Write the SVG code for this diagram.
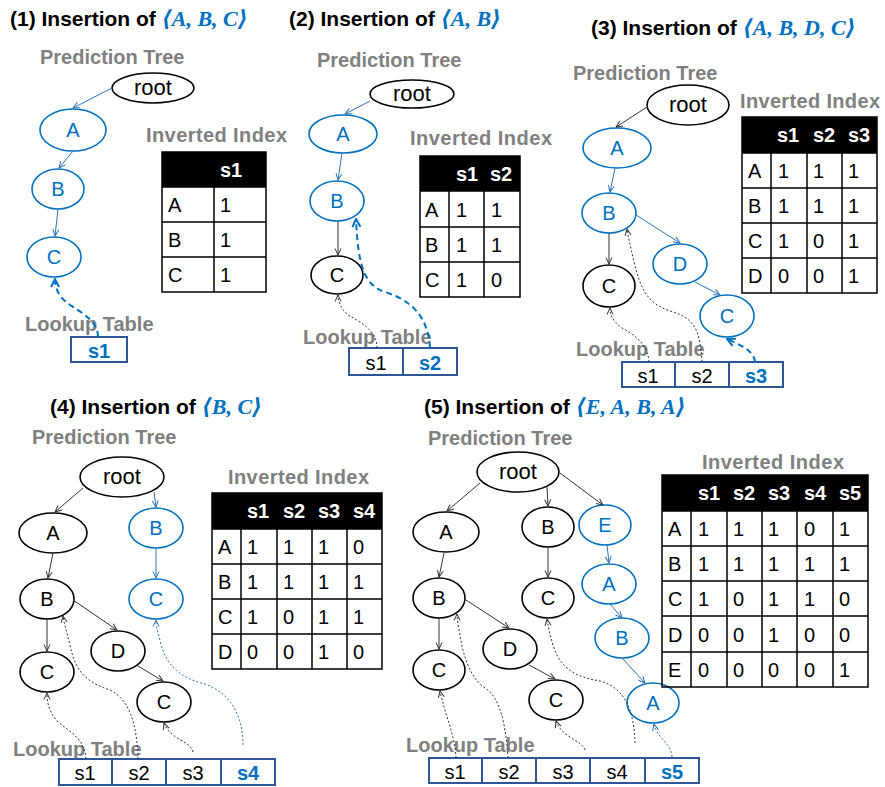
<svg xmlns="http://www.w3.org/2000/svg" width="885" height="787" viewBox="0 0 885 787">
<style>
.title{font-family:"Liberation Sans",Arial,sans-serif;font-size:21px;font-weight:bold;fill:#000}
.math{font-family:"Liberation Serif","DejaVu Serif",serif;font-style:italic;font-weight:bold;fill:#0070c0;font-size:22px}
.lab{font-family:"Liberation Sans",Arial,sans-serif;font-size:20px;font-weight:bold;fill:#808080}
.nk{fill:#fff;stroke:#000;stroke-width:1.6}
.nbl{fill:#fff;stroke:#0070c0;stroke-width:1.6}
.tx{font-family:"Liberation Sans",Arial,sans-serif;font-size:20px;text-anchor:middle;fill:#000}
.txb{font-family:"Liberation Sans",Arial,sans-serif;font-size:20px;text-anchor:middle;fill:#0070c0}
.rt{font-size:22px}
.e{stroke:#333;stroke-width:1;fill:none;marker-end:url(#ak)}
.eb{stroke:#2e75b6;stroke-width:1;fill:none;marker-end:url(#ab)}
.d{stroke:#333;stroke-width:1;stroke-dasharray:2 2;fill:none;marker-end:url(#ak)}
.db{stroke:#0070c0;stroke-width:2;stroke-dasharray:6 4;fill:none;marker-end:url(#abt)}
.dbt{stroke:#2e75b6;stroke-width:1;stroke-dasharray:2 2;fill:none;marker-end:url(#ab)}
.hd{fill:#000}
.grid{stroke:#000;stroke-width:1.5;fill:none}
.ct{font-family:"Liberation Sans",Arial,sans-serif;font-size:20px;fill:#000}
.ht{font-family:"Liberation Sans",Arial,sans-serif;font-size:20px;font-weight:bold;fill:#fff}
.box{fill:#fff;stroke:#2f5597;stroke-width:2}
.bt{font-family:"Liberation Sans",Arial,sans-serif;font-size:20px;text-anchor:middle;fill:#000}
.btb{font-family:"Liberation Sans",Arial,sans-serif;font-size:20px;text-anchor:middle;fill:#0070c0;font-weight:bold}
</style>
<defs>
<marker id="ak" viewBox="0 0 8 8" refX="7.5" refY="4" markerWidth="8" markerHeight="8" markerUnits="userSpaceOnUse" orient="auto"><path d="M1,1 L7.5,4 L1,7" fill="none" stroke="#333" stroke-width="1"/></marker>
<marker id="ab" viewBox="0 0 8 8" refX="7.5" refY="4" markerWidth="8" markerHeight="8" markerUnits="userSpaceOnUse" orient="auto"><path d="M1,1 L7.5,4 L1,7" fill="none" stroke="#2e75b6" stroke-width="1"/></marker>
<marker id="abt" viewBox="0 0 10 10" refX="9" refY="5" markerWidth="10" markerHeight="10" markerUnits="userSpaceOnUse" orient="auto"><path d="M1,1 L9,5 L1,9" fill="none" stroke="#0070c0" stroke-width="2"/></marker>
</defs>
<rect width="885" height="787" fill="#fff"/>

<!-- titles -->
<text class="title" x="10" y="26">(1) Insertion of <tspan class="math">⟨A, B, C⟩</tspan></text>
<text class="title" x="289" y="26">(2) Insertion of <tspan class="math">⟨A, B⟩</tspan></text>
<text class="title" x="591" y="35">(3) Insertion of <tspan class="math">⟨A, B, D, C⟩</tspan></text>
<text class="title" x="50" y="414">(4) Insertion of <tspan class="math">⟨B, C⟩</tspan></text>
<text class="title" x="424" y="414">(5) Insertion of <tspan class="math">⟨E, A, B, A⟩</tspan></text>

<!-- labels -->
<text class="lab" x="40" y="64">Prediction Tree</text>
<text class="lab" x="146" y="142" textLength="141">Inverted Index</text>
<text class="lab" x="25" y="331">Lookup Table</text>
<text class="lab" x="317" y="67">Prediction Tree</text>
<text class="lab" x="410" y="145" textLength="142">Inverted Index</text>
<text class="lab" x="303" y="344">Lookup Table</text>
<text class="lab" x="573" y="80">Prediction Tree</text>
<text class="lab" x="740" y="108" textLength="140">Inverted Index</text>
<text class="lab" x="576" y="356">Lookup Table</text>
<text class="lab" x="32" y="444">Prediction Tree</text>
<text class="lab" x="228" y="484" textLength="141">Inverted Index</text>
<text class="lab" x="13" y="756">Lookup Table</text>
<text class="lab" x="428" y="445">Prediction Tree</text>
<text class="lab" x="702" y="469" textLength="142">Inverted Index</text>
<text class="lab" x="406" y="752">Lookup Table</text>

<!-- ===== Panel 1 ===== -->
<g id="p1-root"><ellipse class="nk" cx="153" cy="88" rx="41" ry="15"/><text class="tx rt" x="153" y="95">root</text></g>
<g id="p1-A"><ellipse class="nbl" cx="73" cy="130" rx="33" ry="21"/><text class="txb" x="73" y="137">A</text></g>
<g id="p1-B"><ellipse class="nbl" cx="58" cy="189" rx="26" ry="20"/><text class="txb" x="58" y="196">B</text></g>
<g id="p1-C"><ellipse class="nbl" cx="54" cy="257" rx="27" ry="20"/><text class="txb" x="54" y="264">C</text></g>
<g id="p1-index">
<rect class="hd" x="162" y="152" width="104" height="35"/>
<rect class="grid" x="162" y="152" width="104" height="140"/>
<path class="grid" d="M162,187H266M162,222H266M162,257H266M214,187V292"/>
<text class="ht" x="220" y="177">s1</text>
<text class="ct" x="168" y="212">A</text><text class="ct" x="220" y="212">1</text>
<text class="ct" x="168" y="247">B</text><text class="ct" x="220" y="247">1</text>
<text class="ct" x="168" y="282">C</text><text class="ct" x="220" y="282">1</text>
</g>
<g id="p1-lookup">
<rect class="box" x="71" y="337" width="56" height="25"/>
<text class="btb" x="99" y="358">s1</text>
</g>

<!-- ===== Panel 2 ===== -->
<g id="p2-root"><ellipse class="nk" cx="412" cy="94" rx="42" ry="14"/><text class="tx rt" x="412" y="101">root</text></g>
<g id="p2-A"><ellipse class="nbl" cx="343" cy="134" rx="34" ry="19"/><text class="txb" x="343" y="141">A</text></g>
<g id="p2-B"><ellipse class="nbl" cx="337" cy="201" rx="27" ry="20"/><text class="txb" x="337" y="208">B</text></g>
<g id="p2-C"><ellipse class="nk" cx="337" cy="275" rx="26" ry="19"/><text class="tx" x="337" y="282">C</text></g>
<g id="p2-index">
<rect class="hd" x="420" y="156" width="100" height="35"/>
<rect class="grid" x="420" y="156" width="100" height="141"/>
<path class="grid" d="M420,191H520M420,227H520M420,262H520M449,191V297M484,156V297"/>
<text class="ht" x="456" y="181">s1</text><text class="ht" x="490" y="181">s2</text>
<text class="ct" x="425" y="217">A</text><text class="ct" x="456" y="217">1</text><text class="ct" x="491" y="217">1</text>
<text class="ct" x="425" y="252">B</text><text class="ct" x="456" y="252">1</text><text class="ct" x="491" y="252">1</text>
<text class="ct" x="425" y="287">C</text><text class="ct" x="456" y="287">1</text><text class="ct" x="491" y="287">0</text>
</g>
<g id="p2-lookup">
<rect class="box" x="349" y="348" width="108" height="27"/>
<path class="box" d="M403,348V375"/>
<text class="bt" x="376" y="370">s1</text>
<text class="btb" x="430" y="370">s2</text>
</g>

<!-- ===== Panel 3 ===== -->
<g id="p3-root"><ellipse class="nk" cx="688" cy="105" rx="41" ry="20"/><text class="tx rt" x="688" y="112">root</text></g>
<g id="p3-A"><ellipse class="nbl" cx="617" cy="148" rx="34" ry="20"/><text class="txb" x="617" y="155">A</text></g>
<g id="p3-B"><ellipse class="nbl" cx="609" cy="213" rx="27" ry="20"/><text class="txb" x="609" y="220">B</text></g>
<g id="p3-C"><ellipse class="nk" cx="609" cy="286" rx="26" ry="21"/><text class="tx" x="609" y="293">C</text></g>
<g id="p3-D"><ellipse class="nbl" cx="680" cy="264" rx="27" ry="20"/><text class="txb" x="680" y="271">D</text></g>
<g id="p3-C2"><ellipse class="nbl" cx="727" cy="316" rx="27" ry="21"/><text class="txb" x="727" y="323">C</text></g>
<g id="p3-index">
<rect class="hd" x="742" y="117" width="135" height="36"/>
<rect class="grid" x="742" y="117" width="135" height="176"/>
<path class="grid" d="M742,153H877M742,188H877M742,223H877M742,258H877M771,153V293M807,153V293M842,153V293"/>
<text class="ht" x="777" y="142">s1</text><text class="ht" x="813" y="142">s2</text><text class="ht" x="848" y="142">s3</text>
<text class="ct" x="748" y="178">A</text><text class="ct" x="778" y="178">1</text><text class="ct" x="813" y="178">1</text><text class="ct" x="848" y="178">1</text>
<text class="ct" x="748" y="213">B</text><text class="ct" x="778" y="213">1</text><text class="ct" x="813" y="213">1</text><text class="ct" x="848" y="213">1</text>
<text class="ct" x="748" y="248">C</text><text class="ct" x="778" y="248">1</text><text class="ct" x="813" y="248">0</text><text class="ct" x="848" y="248">1</text>
<text class="ct" x="748" y="283">D</text><text class="ct" x="778" y="283">0</text><text class="ct" x="813" y="283">0</text><text class="ct" x="848" y="283">1</text>
</g>
<g id="p3-lookup">
<rect class="box" x="622" y="362" width="161" height="25"/>
<path class="box" d="M675,362V387M729,362V387"/>
<text class="bt" x="648" y="383">s1</text>
<text class="bt" x="702" y="383">s2</text>
<text class="btb" x="756" y="383">s3</text>
</g>

<!-- ===== Panel 4 ===== -->
<g id="p4-root"><ellipse class="nk" cx="122" cy="477" rx="42" ry="20"/><text class="tx rt" x="122" y="484">root</text></g>
<g id="p4-A"><ellipse class="nk" cx="53" cy="533" rx="34" ry="20"/><text class="tx" x="53" y="540">A</text></g>
<g id="p4-B"><ellipse class="nk" cx="47" cy="599" rx="27" ry="20"/><text class="tx" x="47" y="606">B</text></g>
<g id="p4-C"><ellipse class="nk" cx="47" cy="672" rx="27" ry="20"/><text class="tx" x="47" y="679">C</text></g>
<g id="p4-D"><ellipse class="nk" cx="118" cy="651" rx="27" ry="20"/><text class="tx" x="118" y="658">D</text></g>
<g id="p4-C2"><ellipse class="nk" cx="164" cy="702" rx="27" ry="20"/><text class="tx" x="164" y="709">C</text></g>
<g id="p4-Bb"><ellipse class="nbl" cx="156" cy="528" rx="27" ry="20"/><text class="txb" x="156" y="535">B</text></g>
<g id="p4-Cb"><ellipse class="nbl" cx="156" cy="599" rx="27" ry="20"/><text class="txb" x="156" y="606">C</text></g>
<g id="p4-index">
<rect class="hd" x="212" y="493" width="170" height="36"/>
<rect class="grid" x="212" y="493" width="170" height="176"/>
<path class="grid" d="M212,529H382M212,564H382M212,599H382M212,634H382M241,529V669M277,529V669M312,529V669M347,529V669"/>
<text class="ht" x="247" y="518">s1</text><text class="ht" x="283" y="518">s2</text><text class="ht" x="318" y="518">s3</text><text class="ht" x="353" y="518">s4</text>
<text class="ct" x="218" y="554">A</text><text class="ct" x="247" y="554">1</text><text class="ct" x="283" y="554">1</text><text class="ct" x="318" y="554">1</text><text class="ct" x="353" y="554">0</text>
<text class="ct" x="218" y="589">B</text><text class="ct" x="247" y="589">1</text><text class="ct" x="283" y="589">1</text><text class="ct" x="318" y="589">1</text><text class="ct" x="353" y="589">1</text>
<text class="ct" x="218" y="624">C</text><text class="ct" x="247" y="624">1</text><text class="ct" x="283" y="624">0</text><text class="ct" x="318" y="624">1</text><text class="ct" x="353" y="624">1</text>
<text class="ct" x="218" y="659">D</text><text class="ct" x="247" y="659">0</text><text class="ct" x="283" y="659">0</text><text class="ct" x="318" y="659">1</text><text class="ct" x="353" y="659">0</text>
</g>
<g id="p4-lookup">
<rect class="box" x="59" y="759" width="216" height="26"/>
<path class="box" d="M112,759V785M166,759V785M221,759V785"/>
<text class="bt" x="85" y="780">s1</text>
<text class="bt" x="139" y="780">s2</text>
<text class="bt" x="193" y="780">s3</text>
<text class="btb" x="248" y="780">s4</text>
</g>

<!-- ===== Panel 5 ===== -->
<g id="p5-root"><ellipse class="nk" cx="518" cy="472" rx="41" ry="20"/><text class="tx rt" x="518" y="479">root</text></g>
<g id="p5-A"><ellipse class="nk" cx="446" cy="532" rx="33" ry="20"/><text class="tx" x="446" y="539">A</text></g>
<g id="p5-B"><ellipse class="nk" cx="439" cy="598" rx="26" ry="20"/><text class="tx" x="439" y="605">B</text></g>
<g id="p5-C"><ellipse class="nk" cx="439" cy="670" rx="26" ry="20"/><text class="tx" x="439" y="677">C</text></g>
<g id="p5-D"><ellipse class="nk" cx="510" cy="649" rx="27" ry="20"/><text class="tx" x="510" y="656">D</text></g>
<g id="p5-C2"><ellipse class="nk" cx="556" cy="700" rx="27" ry="20"/><text class="tx" x="556" y="707">C</text></g>
<g id="p5-B2"><ellipse class="nk" cx="548" cy="527" rx="26" ry="20"/><text class="tx" x="548" y="534">B</text></g>
<g id="p5-C3"><ellipse class="nk" cx="548" cy="598" rx="26" ry="20"/><text class="tx" x="548" y="605">C</text></g>
<g id="p5-Eb"><ellipse class="nbl" cx="605" cy="525" rx="26" ry="20"/><text class="txb" x="605" y="532">E</text></g>
<g id="p5-Ab"><ellipse class="nbl" cx="609" cy="584" rx="27" ry="20"/><text class="txb" x="609" y="591">A</text></g>
<g id="p5-Bb"><ellipse class="nbl" cx="622" cy="638" rx="27" ry="20"/><text class="txb" x="622" y="645">B</text></g>
<g id="p5-Ab2"><ellipse class="nbl" cx="653" cy="703" rx="26" ry="20"/><text class="txb" x="653" y="710">A</text></g>
<g id="p5-index">
<rect class="hd" x="662" y="475" width="206" height="36"/>
<rect class="grid" x="662" y="475" width="206" height="212"/>
<path class="grid" d="M662,511H868M662,546H868M662,581H868M662,616H868M662,652H868M691,511V687M727,511V687M762,511V687M797,511V687M833,511V687"/>
<text class="ht" x="698" y="500">s1</text><text class="ht" x="733" y="500">s2</text><text class="ht" x="768" y="500">s3</text><text class="ht" x="804" y="500">s4</text><text class="ht" x="839" y="500">s5</text>
<text class="ct" x="668" y="536">A</text><text class="ct" x="698" y="536">1</text><text class="ct" x="733" y="536">1</text><text class="ct" x="768" y="536">1</text><text class="ct" x="804" y="536">0</text><text class="ct" x="839" y="536">1</text>
<text class="ct" x="668" y="571">B</text><text class="ct" x="698" y="571">1</text><text class="ct" x="733" y="571">1</text><text class="ct" x="768" y="571">1</text><text class="ct" x="804" y="571">1</text><text class="ct" x="839" y="571">1</text>
<text class="ct" x="668" y="606">C</text><text class="ct" x="698" y="606">1</text><text class="ct" x="733" y="606">0</text><text class="ct" x="768" y="606">1</text><text class="ct" x="804" y="606">1</text><text class="ct" x="839" y="606">0</text>
<text class="ct" x="668" y="642">D</text><text class="ct" x="698" y="642">0</text><text class="ct" x="733" y="642">0</text><text class="ct" x="768" y="642">1</text><text class="ct" x="804" y="642">0</text><text class="ct" x="839" y="642">0</text>
<text class="ct" x="668" y="677">E</text><text class="ct" x="698" y="677">0</text><text class="ct" x="733" y="677">0</text><text class="ct" x="768" y="677">0</text><text class="ct" x="804" y="677">0</text><text class="ct" x="839" y="677">1</text>
</g>
<g id="p5-lookup">
<rect class="box" x="429" y="758" width="270" height="25"/>
<path class="box" d="M482,758V783M536,758V783M590,758V783M645,758V783"/>
<text class="bt" x="455" y="779">s1</text>
<text class="bt" x="509" y="779">s2</text>
<text class="bt" x="563" y="779">s3</text>
<text class="bt" x="617" y="779">s4</text>
<text class="btb" x="672" y="779">s5</text>
</g>

<!-- ===== connectors ===== -->
<g id="connectors">
<!-- panel 1 -->
<path class="eb" d="M112,88L73,108"/>
<path class="eb" d="M73,151L59,168"/>
<path class="eb" d="M58,209L55,236"/>
<path class="db" d="M98,337C98,322 84,314 70,305C60,298 55,290 55,279"/>
<!-- panel 2 -->
<path class="eb" d="M370,101L345,114"/>
<path class="eb" d="M342,153L338,180"/>
<path class="e" d="M338,221L338,255"/>
<path class="d" d="M377,348C377,330 360,322 348,315C340,308 338,300 338,295"/>
<path class="db" d="M430,348C428,315 410,300 385,292C362,285 358,260 356,219"/>
<!-- panel 3 -->
<path class="e" d="M647,107L616,127"/>
<path class="eb" d="M615,168L610,192"/>
<path class="e" d="M609,233L609,264"/>
<path class="eb" d="M636,215L680,243"/>
<path class="eb" d="M695,282L720,295"/>
<path class="d" d="M649,362C648,345 635,335 622,328C612,320 610,315 610,308"/>
<path class="d" d="M702,362C700,330 695,318 670,311C645,303 640,285 634,262C630,245 628,235 627,229"/>
<path class="db" d="M755,362C754,350 740,345 727,339"/>
<!-- panel 4 -->
<path class="e" d="M83,488L55,512"/>
<path class="eb" d="M154,492L156,507"/>
<path class="e" d="M53,553L48,578"/>
<path class="e" d="M47,619L47,651"/>
<path class="e" d="M73,600L117,630"/>
<path class="e" d="M138,666L163,681"/>
<path class="eb" d="M156,548L156,578"/>
<path class="d" d="M86,759C85,740 72,733 58,722C49,712 47,703 47,693"/>
<path class="d" d="M138,759C137,725 130,700 110,690C85,682 75,670 70,645C66,630 64,622 63,616"/>
<path class="d" d="M193,752C190,740 170,740 164,723"/>
<path class="dbt" d="M243,745C243,715 230,693 205,684C180,678 165,665 160,640C157,630 156,625 156,620"/>
<!-- panel 5 -->
<path class="e" d="M480,483L447,511"/>
<path class="e" d="M547,487L548,506"/>
<path class="e" d="M560,473L603,505"/>
<path class="e" d="M444,553L439,577"/>
<path class="e" d="M439,618L439,649"/>
<path class="e" d="M466,600L509,628"/>
<path class="e" d="M529,665L555,679"/>
<path class="e" d="M548,547L548,577"/>
<path class="eb" d="M607,545L609,563"/>
<path class="eb" d="M610,604L622,618"/>
<path class="eb" d="M622,658L645,683"/>
<path class="d" d="M456,758C455,735 445,715 440,691"/>
<path class="d" d="M508,758C506,725 500,697 485,688C470,678 463,655 460,635C458,625 457,618 457,614"/>
<path class="d" d="M585,750C582,740 562,738 556,721"/>
<path class="d" d="M635,743C634,710 625,688 600,681C575,677 560,668 553,645C549,632 548,625 547,619"/>
<path class="dbt" d="M672,757C671,742 658,740 654,724"/>
</g>
</svg>
